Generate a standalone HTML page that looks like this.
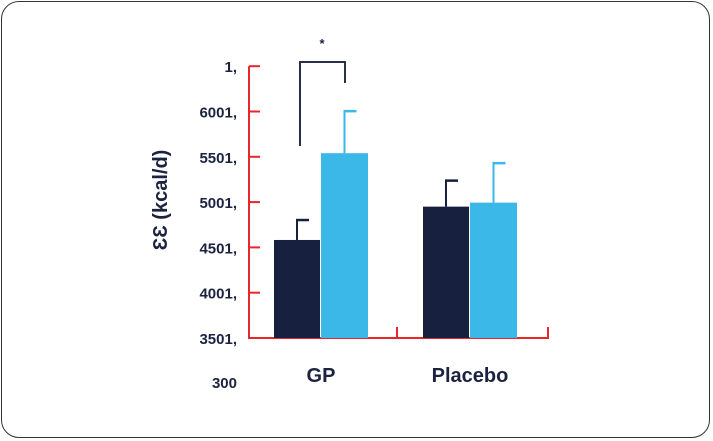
<!DOCTYPE html>
<html><head><meta charset="utf-8"><style>
html,body{margin:0;padding:0;background:#fff;}
.card{position:absolute;left:1px;top:1px;width:709px;height:437px;border:1px solid #333;border-radius:18px;box-sizing:border-box;}
text{font-family:"Liberation Sans",sans-serif;font-weight:bold;fill:#1b2340;}
</style></head><body>
<div class="card"></div>
<svg width="713" height="441" style="position:absolute;left:0;top:0">
<g id="g"></g>
</svg>
<script>
const tickLabels=["3501,","4001,","4501,","5001,","5501,","6001,","1,"];
const tickValues=[3500,4000,4500,5000,5500,6000,6500];
const groups=["GP","Placebo"];
const seriesDark=[4582,4950];
const seriesDarkErr=[4802,5237];
const seriesLight=[5540,4994];
const seriesLightErr=[6004,5430];
const NS="http://www.w3.org/2000/svg";
const g=document.getElementById('g');
function y(v){return 338-(v-3500)*45.3/500;}
const groupX=[274,423];
function mk(tag,attrs,text){const e=document.createElementNS(NS,tag);for(const k in attrs)e.setAttribute(k,attrs[k]);if(text!==undefined)e.textContent=text;g.appendChild(e);return e;}
const red="#e8262b";
let e;
e=mk('line',{x1:249,y1:y(6500),x2:249,y2:339,stroke:red,'stroke-width':2});


e=mk('line',{x1:248,y1:338,x2:549,y2:338,stroke:red,'stroke-width':2});


[397,548].forEach(x=>{e=mk('line',{x1:x,y1:338,x2:x,y2:327,stroke:red,'stroke-width':2});

});
tickValues.forEach((v,i)=>{
 e=mk('line',{x1:249,y1:y(v),x2:260,y2:y(v),stroke:red,'stroke-width':2});
 
 
 e=mk('text',{x:237,y:y(v)+6,'text-anchor':'end','font-size':15},tickLabels[i]);
 
 
});
e=mk('text',{x:237,y:388,'text-anchor':'end','font-size':15},"300");


e=mk('text',{x:0,y:0,'text-anchor':'middle','font-size':20,transform:'translate(167,200) rotate(-90)'},"ƐƐ (kcal/d)");


function bar(x,w,v,ev,col,name){
 const cx=x+w/2;
 e=mk('line',{x1:cx,y1:y(v),x2:cx,y2:y(ev),stroke:col,'stroke-width':2});
 
 
 e=mk('line',{x1:cx-1,y1:y(ev),x2:cx+12,y2:y(ev),stroke:col,'stroke-width':2.5});
 
 
 e=mk('rect',{x:x,y:y(v),width:w,height:338-y(v),fill:col});
 
 
}
groups.forEach((gname,i)=>{
 const x0=groupX[i];
 bar(x0,46,seriesDark[i],seriesDarkErr[i],"#17203f","bar-"+gname.toLowerCase()+"-dark");
 bar(x0+47,47,seriesLight[i],seriesLightErr[i],"#3bb8e8","bar-"+gname.toLowerCase()+"-light");
 e=mk('text',{x:x0+47,y:382,'text-anchor':'middle','font-size':20},gname);
 
 
});
e=mk('path',{d:'M300 146 V62 H345 V83',fill:'none',stroke:'#2a3048','stroke-width':2});


e=mk('text',{x:322,y:48,'text-anchor':'middle','font-size':13,'font-weight':'normal'},"*");


</script>
</body></html>
